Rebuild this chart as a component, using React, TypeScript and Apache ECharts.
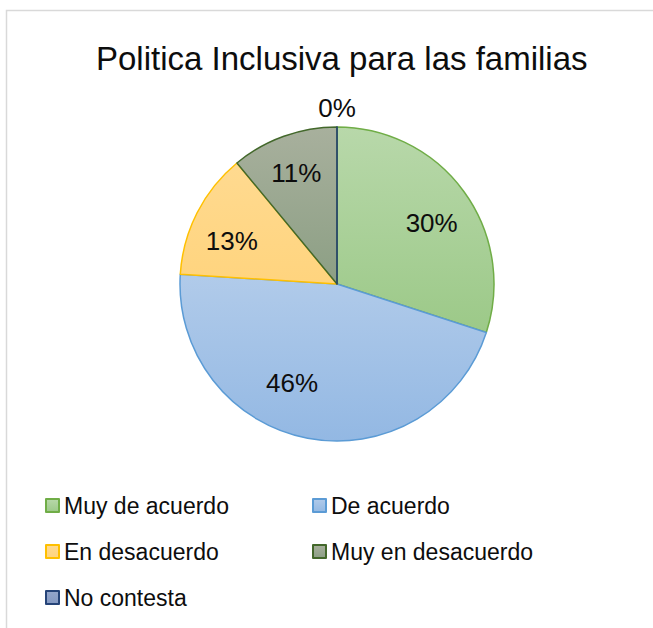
import React, { useEffect, useRef } from "react";
import * as echarts from "echarts";

const categories = ["Muy de acuerdo", "De acuerdo", "En desacuerdo", "Muy en desacuerdo", "No contesta"];
const values = [30, 46, 13, 11, 0];
const titleText = "Politica Inclusiva para las familias";

const fillTop = ["#b8d8aa", "#b1cbea", "#ffda90", "#a8b09d", "#94a6cb"];
const fillBottom = ["#9cc988", "#93b8e3", "#ffd47e", "#8c9f84", "#8499c2"];
const borders = ["#70ad47", "#5b9bd5", "#ffc000", "#43682b", "#264478"];
const labelOffsets = [[0, 8], [-23, -16], [-1, 10], [-1, -1], [0, -59]];

export default function App() {
  const ref = useRef<HTMLDivElement>(null);
  useEffect(() => {
    document.body.style.margin = "0";
    if (!ref.current) return;
    const chart = echarts.init(ref.current, undefined, { renderer: "svg" });
    const font = "'Liberation Sans', Arial, sans-serif";
    const pieData = categories.map((name, i) => ({
      name,
      value: values[i],
      itemStyle: {
        color: new echarts.graphic.LinearGradient(0, 0, 0, 1, [
          { offset: 0, color: fillTop[i] },
          { offset: 1, color: fillBottom[i] },
        ]),
        borderColor: borders[i],
        borderWidth: 1.5,
      },
    }));
    const labelData = categories.map((name, i) => ({
      name,
      value: values[i],
      label: { offset: labelOffsets[i] },
    }));
    const legendText = { fontFamily: font, fontSize: 23, lineHeight: 23, color: "#0d0d0d" };
    chart.setOption({
      animation: false,
      backgroundColor: "#ffffff",
      title: {
        text: titleText,
        left: 91,
        top: 37,
        textStyle: { fontFamily: font, fontSize: 33, fontWeight: "normal", color: "#0d0d0d" },
      },
      graphic: [
        {
          type: "rect",
          shape: { x: 6.5, y: 10.5, width: 700, height: 700 },
          style: { fill: "none", stroke: "#d9d9d9", lineWidth: 1.5 },
          silent: true,
        },
      ],
      legend: [
        {
          orient: "vertical",
          left: 40,
          top: 489,
          icon: "rect",
          itemWidth: 13,
          itemHeight: 13,
          itemGap: 23,
          data: [categories[0], categories[2], categories[4]],
          textStyle: legendText,
          selectedMode: false,
        },
        {
          orient: "vertical",
          left: 307,
          top: 489,
          icon: "rect",
          itemWidth: 13,
          itemHeight: 13,
          itemGap: 23,
          data: [categories[1], categories[3]],
          textStyle: legendText,
          selectedMode: false,
        },
      ],
      series: [
        {
          type: "pie",
          center: [337, 284],
          radius: 157,
          startAngle: 90,
          clockwise: true,
          avoidLabelOverlap: false,
          label: { show: false },
          labelLine: { show: false },
          emphasis: { disabled: true },
          data: pieData,
        },
        {
          type: "pie",
          center: [337, 284],
          radius: [71, 157],
          startAngle: 90,
          clockwise: true,
          silent: true,
          avoidLabelOverlap: false,
          itemStyle: { color: "transparent", borderWidth: 0 },
          label: {
            show: true,
            position: "inside",
            fontFamily: font,
            fontSize: 26,
            color: "#0d0d0d",
            formatter: (p: any) => Math.round(p.percent) + "%",
          },
          labelLine: { show: false },
          emphasis: { disabled: true },
          data: labelData,
        },
      ],
    });
    return () => chart.dispose();
  }, []);
  return <div ref={ref} style={{ width: 653, height: 628 }} />;
}
